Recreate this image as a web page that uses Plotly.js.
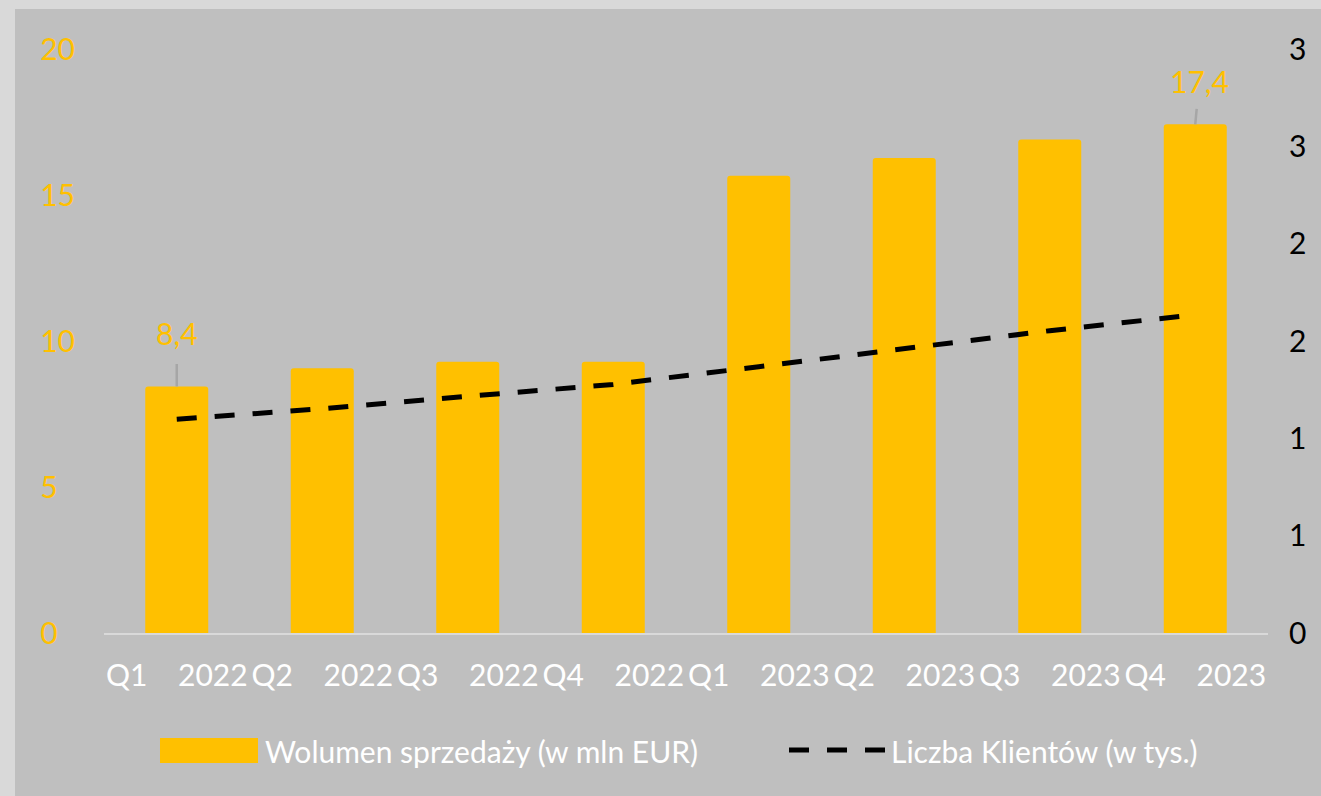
<!DOCTYPE html>
<html>
<head>
<meta charset="utf-8">
<script src="https://cdn.plot.ly/plotly-3.0.1.min.js"></script>
<style>
  html, body { margin: 0; padding: 0; background: #d9d9d9; overflow: hidden; width: 1321px; height: 796px; }
  #chart { position: absolute; left: 15px; top: 9px; width: 1306px; height: 787px; }
</style>
</head>
<body>
<div id="chart"></div>
<script>
// ---- data ----
const categories = ['Q1 2022', 'Q2 2022', 'Q3 2022', 'Q4 2022', 'Q1 2023', 'Q2 2023', 'Q3 2023', 'Q4 2023'];
const salesVolume = [8.44, 9.07, 9.29, 9.29, 15.66, 16.27, 16.90, 17.42];   // mln EUR
const clients = [1.098, 1.152, 1.216, 1.277, 1.368, 1.461, 1.553, 1.635];    // tys.
const leftTicks = [0, 5, 10, 15, 20];
const rightTickVals = [0, 0.5, 1, 1.5, 2, 2.5, 3];
const rightTickText = ['0', '1', '1', '2', '2', '3', '3'];
const seriesNames = ['Wolumen sprzedaży (w mln EUR)', 'Liczba Klientów (w tys.)'];

const FONT = 'Lato, "Open Sans", sans-serif';
const FS = 30;
const YELLOW = '#FFC000';
const fmt = v => v.toFixed(1).replace('.', ',');
const tickText = categories.map(c => c.replace(' ', '\u00a0'.repeat(4)));
// left labels are left-aligned in the original: pad short ones with invisible digits
const leftTickText = leftTicks.map(v => {
  const s = String(v);
  return s.length < 2 ? s + '<span style="color:rgba(0,0,0,0)">0</span>' : s;
});

const traces = [
  {
    type: 'bar', name: seriesNames[0], x: categories, y: salesVolume,
    marker: { color: YELLOW, cornerradius: 3 }, yaxis: 'y', hoverinfo: 'skip'
  },
  {
    type: 'scatter', mode: 'lines', name: seriesNames[1], x: categories, y: clients,
    yaxis: 'y2', line: { color: '#000000', width: 5, dash: '20px,18px' }, hoverinfo: 'skip'
  }
];

const W = 1306, H = 787;
const ml = 89, mr = 53, mt = 40, mb = 163;
const pw = W - ml - mr, ph = H - mt - mb;
// helpers for legend placement (page pixel -> paper)
const px = X => (X - 15 - ml) / pw;
const py = Y => (H - mb - (Y - 9)) / ph;

const layout = {
  width: W, height: H,
  margin: { l: ml, r: mr, t: mt, b: mb, pad: 0 },
  paper_bgcolor: '#bfbfbf', plot_bgcolor: '#bfbfbf',
  showlegend: false,
  bargap: 0.567,
  font: { family: FONT, size: FS },
  xaxis: {
    type: 'category', tickvals: categories, ticktext: tickText, tickangle: 0,
    tickfont: { family: FONT, size: FS, color: '#ffffff' },
    showline: true, linecolor: '#d9d9d9', linewidth: 2,
    showgrid: false, zeroline: false, ticks: '', ticklabelstandoff: 15
  },
  yaxis: {
    range: [0, 20], tickvals: leftTicks, ticktext: leftTickText,
    tickfont: { family: FONT, size: FS, color: YELLOW },
    ticklabelstandoff: 28,
    showgrid: false, zeroline: false, showline: false, ticks: ''
  },
  yaxis2: {
    range: [0, 3], overlaying: 'y', side: 'right', anchor: 'x',
    tickvals: rightTickVals, ticktext: rightTickText,
    tickfont: { family: FONT, size: FS, color: '#000000' },
    showgrid: false, zeroline: false, showline: false, ticks: '', ticklabelstandoff: 20
  },
  annotations: [
    {
      x: categories[0], y: salesVolume[0], xref: 'x', yref: 'y',
      text: fmt(salesVolume[0]), showarrow: true, arrowhead: 0, arrowwidth: 2.5, arrowcolor: '#a6a6a6',
      ax: 0, ay: -54, startstandoff: 12, font: { family: FONT, size: FS, color: YELLOW }
    },
    {
      x: categories[7], y: salesVolume[7], xref: 'x', yref: 'y',
      text: fmt(salesVolume[7]), showarrow: true, arrowhead: 0, arrowwidth: 2.5, arrowcolor: '#a6a6a6',
      ax: 4, ay: -43, startstandoff: 8, font: { family: FONT, size: FS, color: YELLOW }
    },
    {
      x: px(263), y: py(751), xref: 'paper', yref: 'paper', xanchor: 'left', yanchor: 'middle',
      text: seriesNames[0], showarrow: false, font: { family: FONT, size: FS, color: '#ffffff' }
    },
    {
      x: px(889), y: py(751), xref: 'paper', yref: 'paper', xanchor: 'left', yanchor: 'middle',
      text: seriesNames[1], showarrow: false, font: { family: FONT, size: FS, color: '#ffffff' }
    }
  ],
  shapes: [
    {
      type: 'rect', xref: 'paper', yref: 'paper',
      x0: px(160), x1: px(258), y0: py(738), y1: py(763),
      fillcolor: YELLOW, line: { width: 0 }
    },
    {
      type: 'line', xref: 'paper', yref: 'paper',
      x0: px(789), x1: px(886), y0: py(750), y1: py(750),
      line: { color: '#000000', width: 5, dash: '20px,18px' }
    }
  ]
};

Plotly.newPlot('chart', traces, layout, { staticPlot: true, displayModeBar: false });
</script>
</body>
</html>
